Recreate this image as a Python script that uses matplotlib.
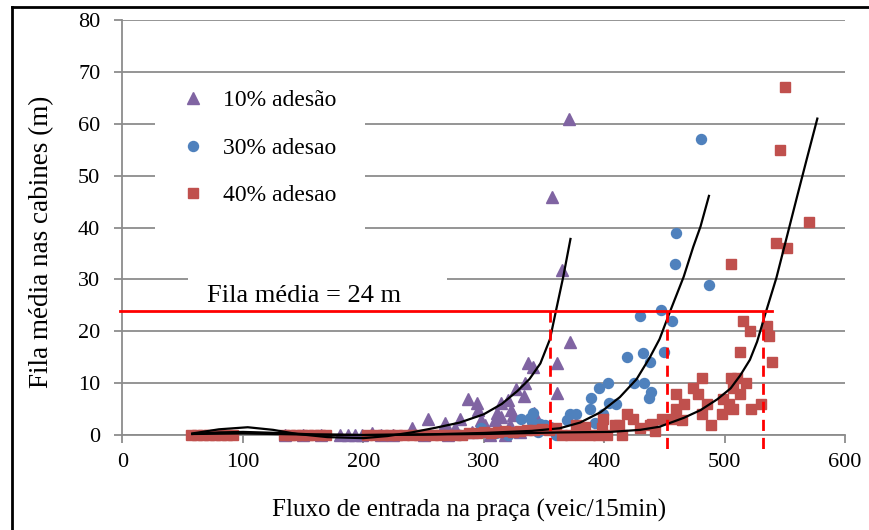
import matplotlib
matplotlib.use("Agg")
import matplotlib.pyplot as plt
from matplotlib.lines import Line2D
from matplotlib.patches import Rectangle

plt.rcParams['font.family'] = ['Liberation Serif', 'DejaVu Serif']

# --- data ---
labels = ['10% adesão', '30% adesao', '40% adesao']

a10_x = [135, 150, 165, 181, 187, 193, 199, 207, 215, 225, 240, 254, 268, 276, 280,
         287, 294, 295, 298, 301, 309, 311, 314, 314, 320, 322, 323, 324, 327, 333,
         334, 337, 341, 342, 361, 361, 365, 357, 371, 372, 250, 270, 290, 305, 318, 330]
a10_y = [0, 0, 0, 0, 0, 0, 0, 0.4, 0, 0, 1.3, 3.0, 2.3, 1.3, 3.0,
         7.0, 6.1, 4.8, 2.8, 2.0, 2.9, 4.2, 6.2, 3.5, 6.8, 1.9, 4.8, 3.9, 8.9, 7.6,
         10.0, 13.9, 13.1, 4.2, 13.8, 8.1, 31.9, 45.9, 61.0, 17.9, 0, 0, 0.5, 0, 0, 0.5]

a30_x = [250, 280, 298, 310, 320, 331, 338, 340, 341, 345, 347, 351, 355, 360, 369,
         372, 377, 388, 389, 392, 396, 399, 403, 404, 410, 419, 425, 430, 432, 433,
         437, 439, 438, 447, 450, 456, 459, 460, 480, 487]
a30_y = [0, 0, 1.3, 0.3, 0, 3.1, 3.2, 2.6, 4.2, 0.5, 2.2, 1.9, 1.5, 0, 2.9,
         4.0, 4.0, 5.1, 7.1, 2.3, 9.0, 4.0, 10.0, 6.1, 6.0, 15.0, 10.0, 23.0, 15.9, 10.0,
         7.1, 8.3, 14.0, 24.1, 16.0, 22.0, 33.0, 39.0, 57.0, 29.0]

a40_x = [57, 62, 67, 72, 77, 82, 87, 92, 134, 139, 144, 149, 154, 159, 164, 169,
         203, 210, 216, 222, 228, 234, 240, 246, 252, 258, 264, 270, 276, 282, 288,
         294, 300, 306, 312, 318, 324, 330, 336, 342, 348, 354, 360,
         365, 372, 377, 380, 384, 388, 395, 398, 399, 402, 409, 412, 415, 419, 424,
         430, 438, 442, 440, 448, 456, 460, 460, 465, 466, 474, 478, 481, 481, 485,
         489, 498, 499, 504, 505, 505, 507, 507, 510, 513, 513, 515, 518, 521, 522,
         530, 535, 537, 539, 543, 546, 550, 552, 570]
a40_y = [0, 0, 0, 0, 0, 0, 0, 0, 0, 0, 0, 0, 0, 0, 0, 0,
         0, 0, 0, 0, 0, 0, 0, 0, 0, 0, 0, 0, 0, 0, 0.3,
         0.3, 0.5, 0.3, 0.5, 0.8, 0.5, 0.8, 1.0, 1.0, 1.2, 1.0, 1.3,
         0, 0, 1.9, 0, 1.6, 0, 0, 1.3, 3.1, 0, 1.9, 2.0, 0, 4.1, 3.1,
         1.3, 1.9, 0.8, 2.2, 3.0, 3.0, 5.0, 7.9, 2.9, 5.9, 9.0, 8.0, 10.9, 4.0, 5.9,
         2.0, 4.0, 6.9, 5.9, 33.0, 10.9, 9.0, 5.0, 10.9, 7.9, 16.0, 22.0, 10.0, 20.0, 5.0,
         6.0, 21.0, 19.1, 14.0, 37.0, 55.0, 67.0, 36.0, 41.0]

# trend lines as drawn on the chart
fit10_x = [58, 80, 104, 125, 145, 170, 200, 220, 240, 260, 280, 300, 315, 328, 338,
           347, 355, 360, 366, 372]
fit10_y = [0.3, 1.1, 1.5, 1.0, 0.2, -0.4, -0.6, -0.2, 0.5, 1.4, 2.4, 4.0, 6.0, 8.5, 10.8,
           13.8, 18.5, 24.0, 30.5, 37.8]
fit30_x = [58, 80, 100, 130, 160, 200, 250, 300, 340, 363, 380, 397, 413, 427, 438,
           446, 455, 466, 474, 480, 487]
fit30_y = [0.2, 0.5, 0.6, 0.4, 0.1, 0.0, 0.1, 0.4, 0.8, 1.3, 2.4, 4.4, 7.3, 10.8, 15.0,
           18.5, 24.0, 30.5, 36.3, 40.2, 46.1]
fit40_x = [58, 100, 150, 200, 250, 300, 363, 405, 430, 446, 466, 480, 494, 505, 513,
           521, 527, 534, 543, 552, 560, 568, 577]
fit40_y = [0.2, 0.3, 0.1, 0.0, 0.1, 0.2, 0.5, 0.6, 1.0, 1.6, 3.3, 4.8, 6.9, 9.0, 11.5,
           14.5, 18.0, 23.5, 30.3, 38.5, 45.8, 53.0, 61.0]

fila_limite = 24
fluxo_limite = [355, 452.5, 532]

colors = ['#8064A2', '#4F81BD', '#C0504D']
grid_gray = '#8c8c8c'

fig = plt.figure(figsize=(8.7, 5.3), dpi=100)
ax = fig.add_axes([0.1408, 0.1792, 0.8305, 0.7830])

ax.set_xlim(0, 600)
ax.set_ylim(0, 80)
ax.set_xticks(range(0, 601, 100))
ax.set_yticks(range(0, 81, 10))
ax.yaxis.grid(True, color=grid_gray, lw=1.3, zorder=0)
ax.set_axisbelow(True)
for s in ['top', 'right']:
    ax.spines[s].set_visible(False)
for s in ['left', 'bottom']:
    ax.spines[s].set_color(grid_gray)
    ax.spines[s].set_linewidth(1.3)
ax.tick_params(axis='both', colors=grid_gray, labelcolor='black', labelsize=16,
               length=6, width=1.3, direction='out')
ax.tick_params(axis='x', pad=7)
ax.tick_params(axis='y', pad=10)
ax.set_xlabel('Fluxo de entrada na praça (veic/15min)', fontsize=18)
ax.set_ylabel('Fila média nas cabines (m)', fontsize=19.5)
ax.xaxis.set_label_coords(0.4796, -0.153)
ax.yaxis.set_label_coords(-0.095, 0.465)

# white boxes behind legend and annotation (hide grid there)
ax.add_patch(Rectangle((27, 39.1), 174.4, 30.1, facecolor='white', edgecolor='none', zorder=1))
ax.add_patch(Rectangle((54.4, 25.8), 215, 7.0, facecolor='white', edgecolor='none', zorder=1))

h10, = ax.plot(a10_x, a10_y, ls='none', marker='^', ms=8, color=colors[0],
               clip_on=False, zorder=3, label=labels[0])
h30, = ax.plot(a30_x, a30_y, ls='none', marker='o', ms=7.2, color=colors[1],
               clip_on=False, zorder=3, label=labels[1])
h40, = ax.plot(a40_x, a40_y, ls='none', marker='s', ms=7, color=colors[2],
               clip_on=False, zorder=3, label=labels[2])

for fx, fy in [(fit10_x, fit10_y), (fit30_x, fit30_y), (fit40_x, fit40_y)]:
    ax.plot(fx, fy, color='black', lw=1.6, zorder=4, clip_on=False)

ax.plot([-2, 539], [fila_limite, fila_limite], color='#FF0000', lw=2, zorder=5, clip_on=False)
for xv in fluxo_limite:
    ax.plot([xv, xv], [fila_limite, -3.3], color='#FF0000', lw=2, ls=(0, (4, 2.5)),
            zorder=5, clip_on=False)

ax.text(70, 25.6, 'Fila média = %d m' % fila_limite, fontsize=19, va='baseline',
        ha='left', zorder=6)

ax.legend(handles=[h10, h30, h40], loc='upper left', bbox_to_anchor=(0.081, 0.832),
          frameon=False, fontsize=17, labelspacing=1.1, handlelength=1.0,
          handletextpad=0.76, borderpad=0, borderaxespad=0)

# outer chart border (partly cropped)
fig.add_artist(Line2D([12 / 870, 12 / 870], [0, 1 - 7 / 530], color='black', lw=2))
fig.add_artist(Line2D([12 / 870, 1], [1 - 7 / 530, 1 - 7 / 530], color='black', lw=2))

fig.savefig('out.png', dpi=100)
